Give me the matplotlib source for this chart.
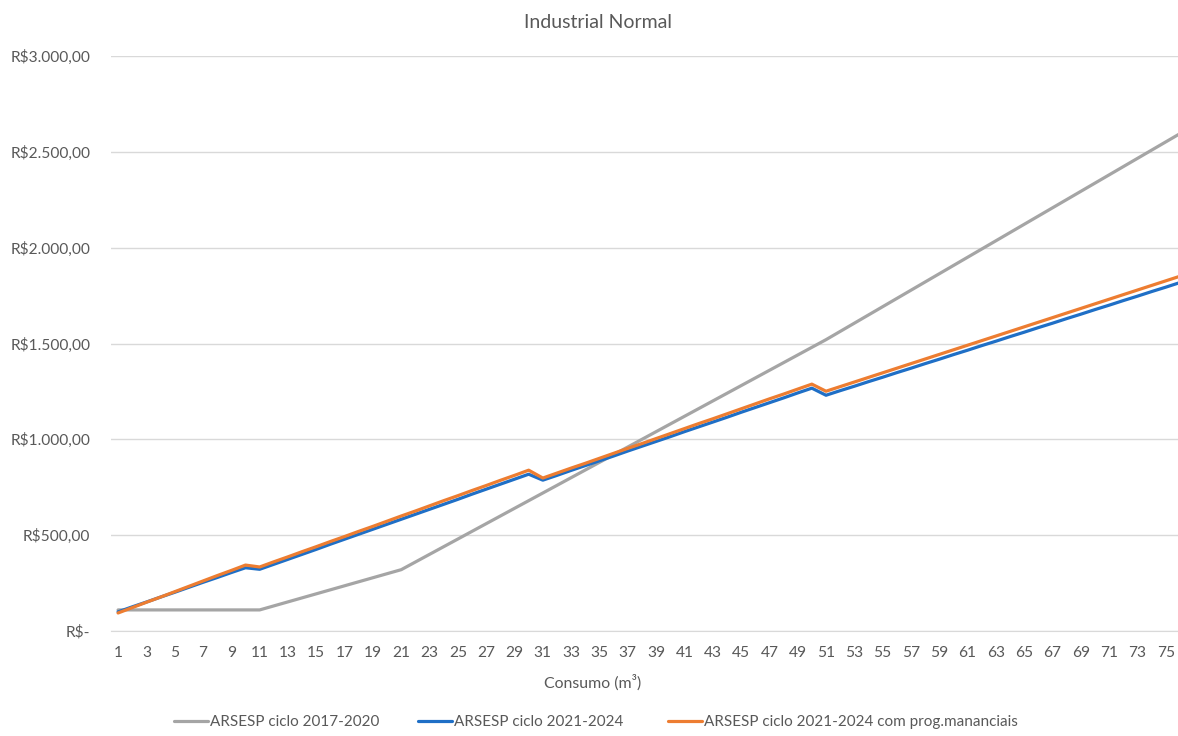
import matplotlib
matplotlib.use("Agg")
import matplotlib.pyplot as plt
from matplotlib.ticker import FixedLocator, FuncFormatter

# Consumption bands (m³) and monthly bill (R$) for each tariff cycle
consumo = list(range(1, 77))

ciclo_2017_2020 = [
    110, 110, 110, 110, 110, 110, 110, 110, 110, 110,
    110, 131, 152, 173, 194, 215, 236, 257, 278, 299,
    320, 360, 400, 440, 480, 520, 560, 600, 640, 680,
    720, 760, 800, 840, 880, 920, 960, 1000, 1040, 1080,
    1120, 1160, 1200, 1240, 1280, 1320, 1360, 1400, 1440, 1480,
    1520, 1563, 1606, 1649, 1692, 1735, 1778, 1821, 1864, 1907,
    1950, 1993, 2036, 2079, 2122, 2165, 2208, 2251, 2294, 2337,
    2380, 2423, 2466, 2509, 2552, 2595,
]

ciclo_2021_2024 = [
    100, 126, 151, 177, 202, 228, 254, 279, 305, 330,
    322, 348, 374, 400, 426, 453, 479, 505, 531, 557,
    583, 609, 635, 661, 687, 714, 740, 766, 792, 818,
    787, 812, 838, 863, 888, 913, 939, 964, 989, 1014,
    1040, 1065, 1090, 1115, 1141, 1166, 1191, 1216, 1242, 1267,
    1230, 1254, 1277, 1301, 1324, 1348, 1371, 1395, 1418, 1442,
    1465, 1489, 1512, 1536, 1559, 1583, 1606, 1630, 1653, 1677,
    1700, 1724, 1747, 1771, 1794, 1818,
]

ciclo_2021_2024_mananciais = [
    94, 122, 150, 177, 205, 233, 261, 289, 316, 344,
    334, 361, 387, 414, 440, 467, 493, 520, 546, 573,
    600, 626, 653, 680, 706, 733, 759, 786, 812, 839,
    798, 824, 850, 875, 901, 927, 953, 978, 1004, 1030,
    1056, 1082, 1107, 1133, 1159, 1185, 1211, 1236, 1262, 1288,
    1251, 1275, 1299, 1323, 1347, 1371, 1395, 1419, 1443, 1467,
    1491, 1515, 1539, 1563, 1587, 1611, 1635, 1659, 1683, 1707,
    1731, 1755, 1779, 1803, 1827, 1851,
]

series_labels = [
    "ARSESP ciclo 2017-2020",
    "ARSESP ciclo 2021-2024",
    "ARSESP ciclo 2021-2024 com prog.mananciais",
]
series_colors = ["#A5A5A5", "#1F6FC6", "#ED7D31"]
y_ticks = [0, 500, 1000, 1500, 2000, 2500, 3000]
x_tick_labels = list(range(1, 77, 2))

plt.rcParams["font.family"] = ["Lato", "DejaVu Sans"]
text_color = "#595959"
grid_color = "#D9D9D9"
W, H = 1178, 736

fig = plt.figure(figsize=(W / 100, H / 100), dpi=100)
ax = fig.add_axes([111 / W, 105 / H, 1 - 111 / W, 575 / H])

lines = []
for values, label, color in zip(
    [ciclo_2017_2020, ciclo_2021_2024, ciclo_2021_2024_mananciais],
    series_labels, series_colors,
):
    ln, = ax.plot(consumo, values, color=color, lw=2.3, label=label,
                  solid_joinstyle="round", solid_capstyle="round")
    lines.append(ln)

ax.set_xlim(0.5, 75.86)
ax.set_ylim(0, 3000)


def real_fmt(v, _pos):
    if v == 0:
        return "R$-"
    s = f"{v:,.2f}"
    s = s.replace(",", "X").replace(".", ",").replace("X", ".")
    return "R$" + s


ax.yaxis.set_major_locator(FixedLocator(y_ticks))
ax.yaxis.set_major_formatter(FuncFormatter(real_fmt))
ax.xaxis.set_major_locator(FixedLocator(x_tick_labels))
ax.tick_params(axis="both", length=0, labelsize=11.2, colors=text_color)
ax.tick_params(axis="y", pad=15)
ax.tick_params(axis="x", pad=11)

ax.grid(axis="y", color=grid_color, lw=1)
ax.set_axisbelow(True)
for side in ["top", "right", "left"]:
    ax.spines[side].set_visible(False)
ax.spines["bottom"].set_color(grid_color)

fig.text(598 / W, 1 - 22 / H, "Industrial Normal", ha="center", va="center",
         fontsize=14, color=text_color)
fig.text(593 / W, 1 - 683 / H, "Consumo (m³)", ha="center", va="center",
         fontsize=11.4, color=text_color)

# One legend entry per series, placed along the bottom row
legend_x = [174, 418, 668]
for ln, label, x0 in zip(lines, series_labels, legend_x):
    fig.legend([ln], [label], loc="center left",
               bbox_to_anchor=(x0 / W, 1 - 722 / H), frameon=False,
               fontsize=11, handlelength=2.2, handletextpad=0.15,
               borderpad=0, borderaxespad=0, labelcolor=text_color)

fig.savefig("out.png", dpi=100)
